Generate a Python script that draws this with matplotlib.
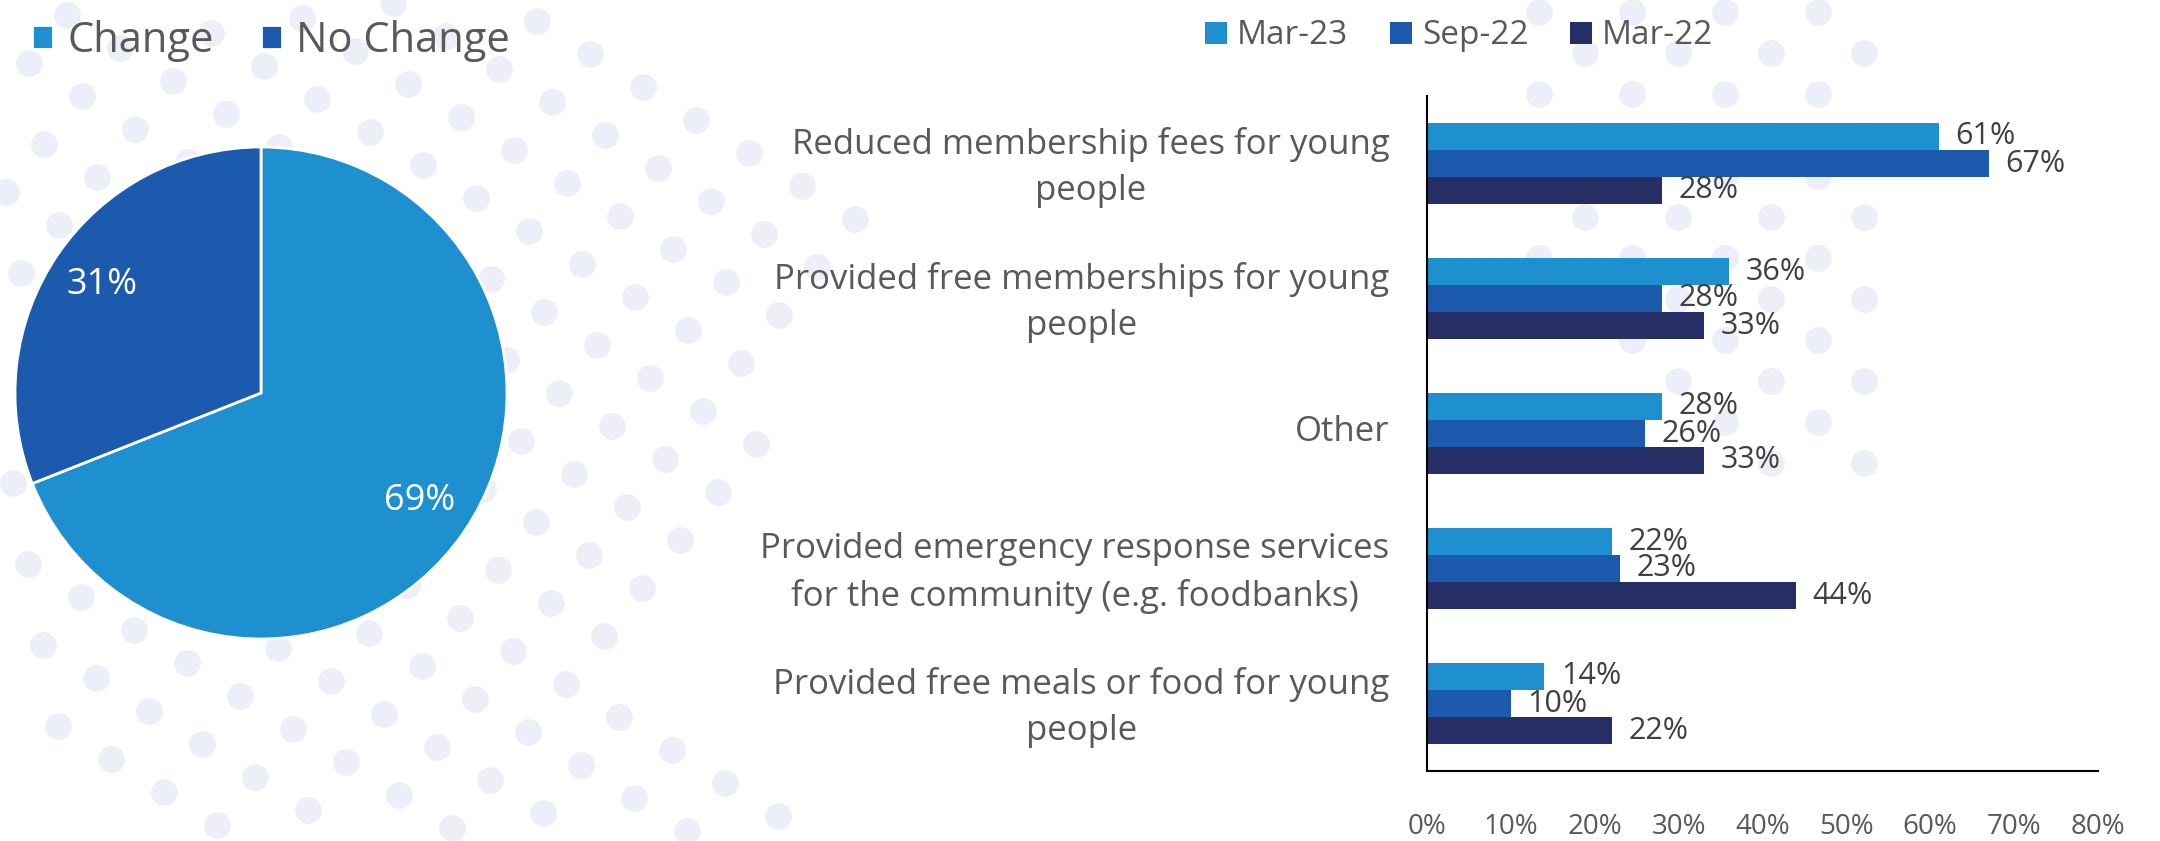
import matplotlib.pyplot as plt
import matplotlib.transforms as mtransforms
import numpy as np
from matplotlib.path import Path

plt.rcParams['font.family'] = ['Open Sans', 'DejaVu Sans']

# pie: share of organisations
pie_labels = ['Change', 'No Change']
pie_values = [69, 31]

# bars: actions taken, by survey wave
categories = ['Reduced membership fees for young\npeople',
              'Provided free memberships for young\npeople',
              'Other',
              'Provided emergency response services\nfor the community (e.g. foodbanks)',
              'Provided free meals or food for young\npeople']
series = ['Mar-23', 'Sep-22', 'Mar-22']
mar23 = [61, 36, 28, 22, 14]
sep22 = [67, 28, 26, 23, 10]
mar22 = [28, 33, 33, 44, 22]
x_ticks = [0, 10, 20, 30, 40, 50, 60, 70, 80]

c_light = '#1E90D0'
c_mid = '#1B5AAD'
c_navy = '#262E66'
grey = '#595959'
dot = '#ECEEF8'

W, H = 2160, 841
fig = plt.figure(figsize=(W / 100, H / 100), dpi=100)


def box(x0, y0, x1, y1):
    # pixel box, origin top-left -> figure fraction rect
    return [x0 / W, 1 - y1 / H, (x1 - x0) / W, (y1 - y0) / H]


def lattice(origin, v1, v2, n=40):
    i, j = np.meshgrid(np.arange(-n, n + 1), np.arange(-n, n + 1))
    px = origin[0] + i * v1[0] + j * v2[0]
    py = origin[1] + i * v1[1] + j * v2[1]
    return np.column_stack([px.ravel(), py.ravel()])


# decorative dotted backdrop
bg = fig.add_axes([0, 0, 1, 1])
bg.set_xlim(0, W)
bg.set_ylim(H, 0)
bg.axis('off')

left_zone = Path([(0, 0), (530, 0), (905, 250), (600, 650), (830, 841),
                  (220, 841), (60, 740), (0, 620)])
pts = lattice((537, 21), (53, 33), (-38, 48))
pts = pts[left_zone.contains_points(pts)]
bg.scatter(pts[:, 0], pts[:, 1], s=370, color=dot, linewidths=0)

pts = lattice((1585, 217), (93, 0), (46.5, 41))
keep = ((pts[:, 0] <= 1895) & (pts[:, 1] >= -20) & (pts[:, 1] <= 480)
        & (pts[:, 0] >= 1520 + np.clip(pts[:, 1] - 300, 0, None) * 1.5))
pts = pts[keep]
bg.scatter(pts[:, 0], pts[:, 1], s=370, color=dot, linewidths=0)

# pie
ax1 = fig.add_axes(box(15, 147, 507, 639))
ax1.set_facecolor('none')
wedges, _, autotexts = ax1.pie(pie_values, colors=[c_light, c_mid], startangle=90,
                               counterclock=False, autopct=lambda p: f'{p:.0f}%',
                               pctdistance=0.78,
                               wedgeprops=dict(edgecolor='white', linewidth=2))
for t in autotexts:
    t.set_color('white')
    t.set_fontsize(26)
ax1.set_xlim(-1, 1)
ax1.set_ylim(-1, 1)

fig.legend(wedges, pie_labels, loc='center left', bbox_to_anchor=(32 / W, 1 - 41 / H),
           ncol=2, fontsize=30, frameon=False, borderpad=0, borderaxespad=0,
           handlelength=0.5, handleheight=0.5, handletextpad=0.34,
           columnspacing=1.15, labelcolor=grey)

# grouped horizontal bars
ax2 = fig.add_axes(box(1427, 96, 2098, 771))
ax2.set_facecolor('none')
y = np.arange(len(categories))
h = 0.2
b1 = ax2.barh(y - h, mar23, height=h, color=c_light)
b2 = ax2.barh(y, sep22, height=h, color=c_mid)
b3 = ax2.barh(y + h, mar22, height=h, color=c_navy)
for bars, vals in [(b1, mar23), (b2, sep22), (b3, mar22)]:
    ax2.bar_label(bars, labels=[f'{v}%' for v in vals], padding=12,
                  fontsize=22, color='#404040')

ax2.set_xlim(0, 80)
ax2.set_ylim(4.5, -0.5)
ax2.set_xticks(x_ticks)
ax2.set_xticklabels([f'{t}%' for t in x_ticks])
ax2.set_yticks(y)
ax2.set_yticklabels(categories)
ax2.tick_params(axis='y', length=0, pad=27, labelsize=25, labelcolor=grey)
ax2.tick_params(axis='x', length=0, pad=30, labelsize=20, labelcolor=grey)
# nudge category labels up so the line centres sit on the group centre
lift = mtransforms.ScaledTranslation(0, 4 / 72, fig.dpi_scale_trans)
for t in ax2.get_yticklabels():
    t.set_multialignment('center')
    t.set_linespacing(1.45)
    t.set_transform(t.get_transform() + lift)
for s in ['top', 'right']:
    ax2.spines[s].set_visible(False)
for s in ['left', 'bottom']:
    ax2.spines[s].set_color('black')
    ax2.spines[s].set_linewidth(1.5)

fig.legend([b1, b2, b3], series, loc='center left', bbox_to_anchor=(1205 / W, 1 - 36 / H),
           ncol=3, fontsize=24, frameon=False, borderpad=0, borderaxespad=0,
           handlelength=0.66, handleheight=0.66, handletextpad=0.3,
           columnspacing=1.25, labelcolor=grey)

fig.savefig('out.png', dpi=100)
